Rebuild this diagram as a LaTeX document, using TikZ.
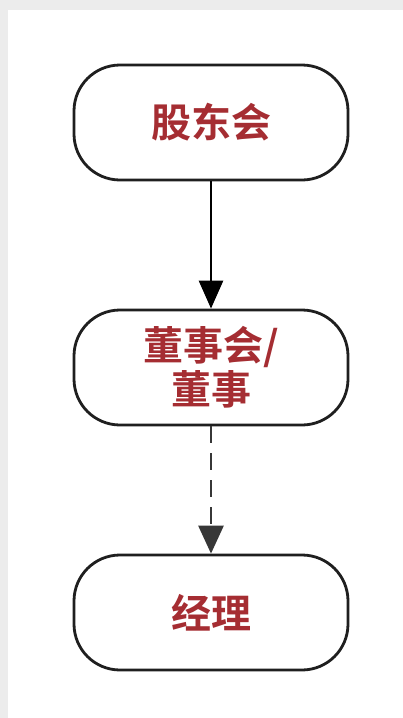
\documentclass[tikz,border=0pt]{standalone}
\usepackage{fontspec}
\newfontfamily\cjk{Noto Sans CJK SC}[BoldFont={* Bold}]
\usetikzlibrary{arrows.meta}
\definecolor{txtred}{RGB}{165,45,50}
\definecolor{bggray}{RGB}{236,236,236}
\definecolor{dashgray}{RGB}{55,55,55}
\tikzset{
  x=1pt, y=-1pt,
  stadium/.style={draw=black!88, line width=2.8pt, rounded corners=46pt, fill=white,
    minimum width=274pt, minimum height=115pt, inner sep=0pt,
    font=\cjk\bfseries\fontsize{40}{44}\selectfont, text=txtred, align=center},
  solidarrow/.style={draw=black, line width=2.8pt, -{Triangle[width=24pt,length=28pt]}},
  dasharrow/.style={draw=dashgray, line width=2.8pt, dash pattern=on 17pt off 10pt, -{Triangle[width=25pt,length=28pt]}}
}
\begin{document}
\begin{tikzpicture}
\fill[bggray] (0,0) rectangle (403,718);
\fill[white] (8,10) rectangle (403,718);
\useasboundingbox (0,0) rectangle (403,718);
\node[stadium] (a) at (211,122.5) {股东会};
\node[stadium] (b) at (211,367.5) {董事会/\\董事};
\node[stadium] (c) at (211,612.5) {经理};
\draw[solidarrow] (a.south) -- (b.north);
\draw[dasharrow] (b.south) -- (c.north);
\end{tikzpicture}
\end{document}
